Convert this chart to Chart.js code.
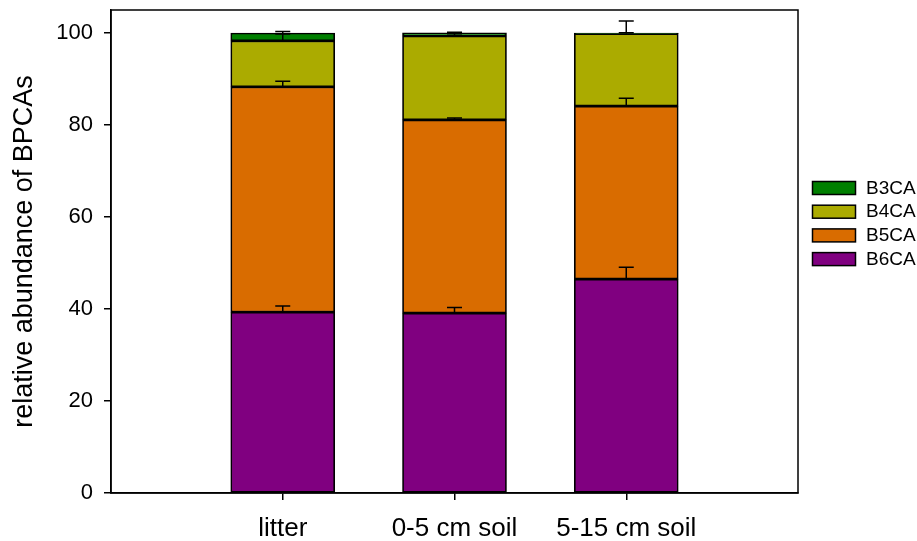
<!DOCTYPE html>
<html>
<head>
<meta charset="utf-8">
<script src="https://cdn.jsdelivr.net/npm/chart.js@4"></script>
<style>
  body { margin: 0; background: #fff; }
  #wrap { width: 917px; height: 541px; }
</style>
</head>
<body>
<div id="wrap"><canvas id="bpcaChart"></canvas></div>
<script>
// valori (% sul totale BPCA)
const categories = ['litter', '0-5 cm soil', '5-15 cm soil'];
const b6ca = [39.3, 39.1, 46.5];
const b5ca = [49.0, 42.0, 37.6];
const b4ca = [10.0, 18.25, 15.75];
const b3ca = [1.7, 0.7, 0.15];
const b6err = [1.35, 1.2, 2.6];
const b5err = [1.2, 0.4, 1.7];
const b4err = [1.5, 0.5, 0.2];
const b3err = [0.35, 0.1, 2.6];
const yTicks = [0, 20, 40, 60, 80, 100];

const FONT = "'Liberation Sans', Arial, sans-serif";

// slot vuoti ai lati, come nel grafico originale
const pad = arr => [null, ...arr, null];
const labels = ['', ...categories, ''];

function series(label, data, errors, color) {
    return {
        label,
        data: pad(data),
        errors: pad(errors),
        backgroundColor: color,
        borderColor: '#000',
        borderWidth: 1.7,
        borderSkipped: false,
        barThickness: 104
    };
}

const errorBars = {
    id: 'errorBars',
    afterDatasetsDraw(chart) {
        const {ctx, scales: {y}} = chart;
        ctx.save();
        ctx.strokeStyle = '#000';
        ctx.lineWidth = 1.5;
        chart.data.datasets.forEach((ds, i) => {
            chart.getDatasetMeta(i).data.forEach((bar, j) => {
                const err = ds.errors[j];
                if (err == null || ds.data[j] == null) return;
                const top = y.getValueForPixel(bar.y);
                const yErr = y.getPixelForValue(top + err);
                ctx.beginPath();
                ctx.moveTo(bar.x, bar.y);
                ctx.lineTo(bar.x, yErr);
                ctx.moveTo(bar.x - 7.5, yErr);
                ctx.lineTo(bar.x + 7.5, yErr);
                ctx.stroke();
            });
        });
        ctx.restore();
    }
};

const frameAndLegend = {
    id: 'frameAndLegend',
    afterDraw(chart) {
        const {ctx, chartArea: a} = chart;
        ctx.save();
        ctx.strokeStyle = '#000';
        ctx.lineWidth = 1.5;
        ctx.strokeRect(a.left, a.top, a.right - a.left, a.bottom - a.top);

        // legenda: B3CA in alto
        const items = chart.data.datasets.slice().reverse();
        ctx.font = '19px ' + FONT;
        ctx.textBaseline = 'middle';
        ctx.textAlign = 'left';
        items.forEach((ds, k) => {
            const top = 181.5 + k * 23.7;
            ctx.fillStyle = ds.backgroundColor;
            ctx.fillRect(812.5, top, 43, 13);
            ctx.strokeRect(812.5, top, 43, 13);
            ctx.fillStyle = '#000';
            ctx.fillText(ds.label, 866, top + 7);
        });
        ctx.restore();
    }
};

new Chart(document.getElementById('bpcaChart'), {
    type: 'bar',
    data: {
        labels,
        datasets: [
            series('B6CA', b6ca, b6err, '#800080'),
            series('B5CA', b5ca, b5err, '#d96c00'),
            series('B4CA', b4ca, b4err, '#abab00'),
            series('B3CA', b3ca, b3err, '#007f00')
        ]
    },
    options: {
        responsive: true,
        maintainAspectRatio: false,
        animation: false,
        layout: { padding: { top: 10, right: 119, left: 0, bottom: 0 } },
        plugins: {
            legend: { display: false },
            tooltip: { enabled: false }
        },
        scales: {
            x: {
                stacked: true,
                offset: false,
                afterFit: s => {
                    s.height = 48;
                    s.paddingLeft = 0; s.paddingRight = 0;
                },
                border: { color: '#000', width: 1.5 },
                grid: {
                    offset: false,
                    drawOnChartArea: false,
                    tickLength: 7,
                    lineWidth: 1.5,
                    color: c => (c.tick && c.tick.label === '') ? 'rgba(0,0,0,0)' : '#000'
                },
                ticks: {
                    color: '#000',
                    padding: 13,
                    maxRotation: 0,
                    autoSkip: false,
                    font: { family: FONT, size: 26 }
                }
            },
            y: {
                stacked: true,
                min: 0,
                max: 105,
                afterFit: s => {
                    s.width = 111;
                    s.paddingTop = 0; s.paddingBottom = 0;
                },
                afterBuildTicks: s => { s.ticks = yTicks.map(v => ({value: v})); },
                border: { color: '#000', width: 1.5 },
                grid: {
                    drawOnChartArea: false,
                    tickLength: 7,
                    lineWidth: 1.5,
                    color: '#000'
                },
                ticks: {
                    color: '#000',
                    padding: 11,
                    font: { family: FONT, size: 22 }
                },
                title: {
                    display: true,
                    text: 'relative abundance of BPCAs',
                    color: '#000',
                    padding: { top: 8, bottom: 0 },
                    font: { family: FONT, size: 27 }
                }
            }
        }
    },
    plugins: [errorBars, frameAndLegend]
});
</script>
</body>
</html>
